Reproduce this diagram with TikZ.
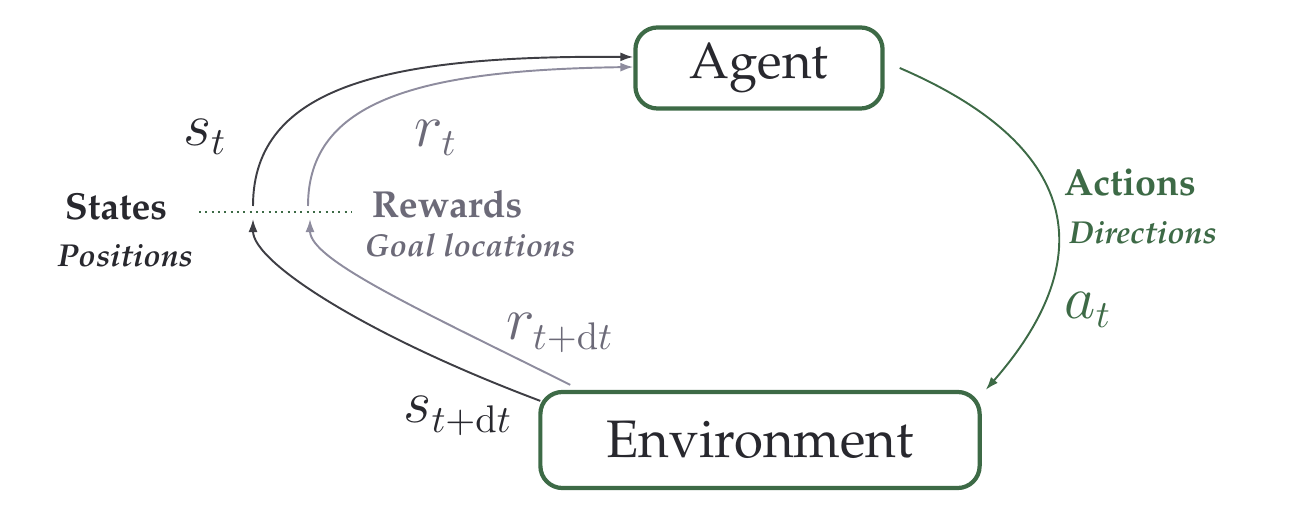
\documentclass[tikz,border=0pt]{standalone}
\usepackage[T1]{fontenc}
\renewcommand{\rmdefault}{ppl}
\usepackage{amsmath}
\usepackage{xcolor}
\usepackage{tikz}
\usetikzlibrary{arrows.meta}

\definecolor{boxgreen}{RGB}{61,106,70}
\definecolor{darkink}{RGB}{40,40,46}
\definecolor{greyink}{RGB}{108,106,120}
\definecolor{greyline}{RGB}{142,140,158}
\definecolor{darkline}{RGB}{62,62,68}

\begin{document}
\begin{tikzpicture}[x=0.01cm, y=-0.01cm,
    box/.style={draw=boxgreen, line width=1.2pt, rounded corners=0.22cm, fill=white, text=darkink},
    flow/.style={line width=0.55pt, -{Latex[length=0.13cm,width=0.09cm]}},
    mlabel/.style={font=\fontsize{16}{18}\selectfont},
    head/.style={font=\fontsize{10.7}{12}\selectfont\bfseries},
    sub/.style={font=\fontsize{9}{11}\selectfont\bfseries\itshape}]
    \useasboundingbox (0,0) rectangle (1310,516);

    % Boxes
    \node[box, minimum width=2.47cm, minimum height=0.81cm, font=\fontsize{14.5}{17}\selectfont] (agent) at (759,68) {Agent};
    \node[box, minimum width=4.39cm, minimum height=0.96cm, font=\fontsize{15}{18}\selectfont] (env) at (760,440) {Environment};

    % Dotted split line
    \coordinate (dl) at (199,212);
    \coordinate (dr) at (352,212);
    \coordinate (sTop) at (253,206);
    \coordinate (sBot) at (253,219);
    \coordinate (rTop) at (308,206);
    \coordinate (rBot) at (310,219);
    \draw[boxgreen, line width=0.6pt, dash pattern=on 0.6pt off 1.2pt] (dl) -- (dr);

    % Observations into the agent
    \draw[flow, darkline] (sTop) .. controls (253,85) and (390,55) .. ([yshift=0.11cm]agent.west);
    \draw[flow, greyline] (rTop) .. controls (308,100) and (420,70) .. ([yshift=0.01cm]agent.west);

    % Feedback from the environment
    \draw[flow, darkline] ([xshift=0.02cm,yshift=-0.11cm]env.north west) .. controls (370,337) and (253,263) .. (sBot);
    \draw[flow, greyline] ([xshift=0.32cm,yshift=0.05cm]env.north west) .. controls (420,310) and (310,260) .. (rBot);

    % Action
    \draw[flow, boxgreen] ([xshift=0.15cm]agent.east) .. controls (1090,150) and (1095,265) .. ([xshift=0.04cm]env.north east);

    % Signal labels
    \node[mlabel, text=darkink] (st) at (205,137) {$s_t$};
    \node[mlabel, text=greyink] (rt) at (436,138) {$r_t$};
    \node[mlabel, text=boxgreen] (act) at (1088,310) {$a_t$};
    \node[mlabel, text=greyink] (rdt) at (560,333) {$r_{t+\mathrm{d}t}$};
    \node[mlabel, text=darkink] (sdt) at (458,416) {$s_{t+\mathrm{d}t}$};

    % Names
    \node[head, text=darkink] (states) at (116,207) {States};
    \node[sub, text=darkink] (positions) at (125,255) {Positions};
    \node[head, text=greyink] (rewards) at (447,204) {Rewards};
    \node[sub, text=greyink] (goals) at (470,245) {Goal locations};
    \node[head, text=boxgreen] (actions) at (1130,183) {Actions};
    \node[sub, text=boxgreen] (dirs) at (1143,232) {Directions};
\end{tikzpicture}
\end{document}
